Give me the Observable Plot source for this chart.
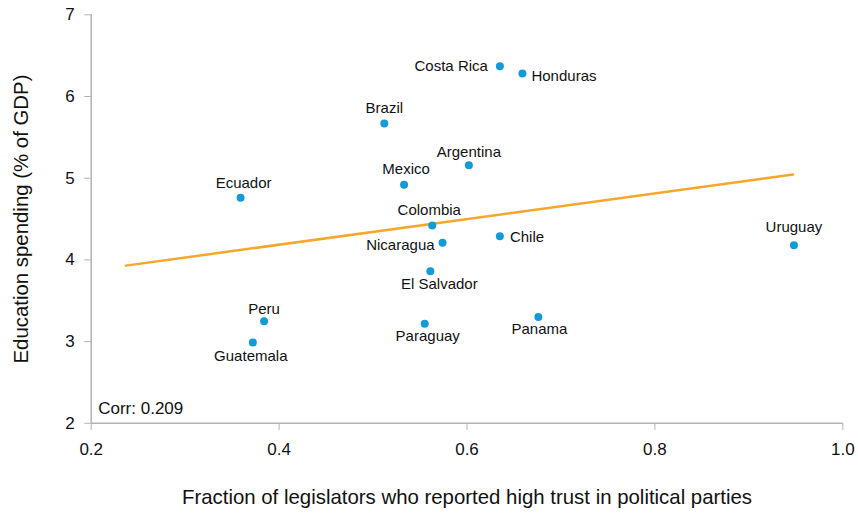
<!DOCTYPE html>
<html>
<head>
<meta charset="utf-8">
<script src="https://cdn.jsdelivr.net/npm/d3@7"></script>
<script src="https://cdn.jsdelivr.net/npm/@observablehq/plot@0.6"></script>
<style>
  html, body { margin: 0; padding: 0; background: #fff; }
  #chart svg { display: block; }
</style>
</head>
<body>
<div id="chart"></div>
<script>
// ---- data ----
const countries = ["Ecuador","Peru","Guatemala","Costa Rica","Honduras","Brazil","Argentina","Mexico","Colombia","Nicaragua","Chile","El Salvador","Paraguay","Panama","Uruguay"];
const trust     = [0.359, 0.384, 0.372, 0.635, 0.659, 0.512, 0.602, 0.533, 0.563, 0.574, 0.635, 0.561, 0.555, 0.676, 0.948];
const spending  = [4.76, 3.25, 2.99, 6.37, 6.28, 5.67, 5.16, 4.92, 4.42, 4.21, 4.29, 3.86, 3.22, 3.30, 4.18];
const trendX = [0.237, 0.947];
const trendY = [3.93, 5.045];
const xTicks = [0.2, 0.4, 0.6, 0.8, 1.0];
const yTicks = [2, 3, 4, 5, 6, 7];
const corrText = "Corr: 0.209";
const xTitle = "Fraction of legislators who reported high trust in political parties";
const yTitle = "Education spending (% of GDP)";

// label placement (style, separate from data)
const labelPlacement = {
  "Ecuador":    {anchor: "middle", dx: 3,   dy: -14.5},
  "Peru":       {anchor: "middle", dx: 0,   dy: -12},
  "Guatemala":  {anchor: "middle", dx: -2,  dy: 13.5},
  "Costa Rica": {anchor: "end",    dx: -12, dy: 0},
  "Honduras":   {anchor: "start",  dx: 9,   dy: 3},
  "Brazil":     {anchor: "middle", dx: 0,   dy: -15.5},
  "Argentina":  {anchor: "middle", dx: 0,   dy: -13},
  "Mexico":     {anchor: "middle", dx: 2,   dy: -16},
  "Colombia":   {anchor: "middle", dx: -3,  dy: -15},
  "Nicaragua":  {anchor: "end",    dx: -8,  dy: 2},
  "Chile":      {anchor: "start",  dx: 10,  dy: 1},
  "El Salvador":{anchor: "middle", dx: 9,   dy: 13},
  "Paraguay":   {anchor: "middle", dx: 3,   dy: 12.5},
  "Panama":     {anchor: "middle", dx: 1,   dy: 12.5},
  "Uruguay":    {anchor: "middle", dx: 0,   dy: -18.5}
};

const points = countries.map((c, i) => ({country: c, x: trust[i], y: spending[i]}));
const trend = trendX.map((x, i) => ({x, y: trendY[i]}));

const FONT = "'Liberation Sans', Arial, Helvetica, sans-serif";
const BLUE = "#129bd8";
const ORANGE = "#f6a62b";
const GRAY = "#b3b3b3";
const INK = "#111";

const labelMarks = points.map(p => {
  const pl = labelPlacement[p.country];
  return Plot.text([p], {
    x: "x", y: "y", text: "country",
    textAnchor: pl.anchor, dx: pl.dx, dy: pl.dy,
    fontSize: 15, fill: INK
  });
});

const chart = Plot.plot({
  width: 858,
  height: 515,
  marginLeft: 90.7,
  marginRight: 15.7,
  marginTop: 14.3,
  marginBottom: 92.2,
  style: {fontFamily: FONT, background: "#fff", color: INK},
  x: {domain: [0.2, 1.0]},
  y: {domain: [2, 7]},
  marks: [
    Plot.axisY({ticks: yTicks, tickSize: 6.5, tickPadding: 10, stroke: GRAY, fontSize: 17, fill: INK,
      tickFormat: d3.format("d"), label: yTitle, labelAnchor: "center", labelArrow: "none", labelOffset: 78}),
    Plot.axisX({ticks: xTicks, tickSize: 7, tickPadding: 13, stroke: GRAY, fontSize: 17, fill: INK,
      tickFormat: d3.format(".1f"), label: xTitle, labelAnchor: "center", labelArrow: "none", labelOffset: 81}),
    Plot.ruleX([0.2], {stroke: GRAY, strokeWidth: 1.5}),
    Plot.ruleY([2], {stroke: GRAY, strokeWidth: 1.5}),
    Plot.line(trend, {x: "x", y: "y", stroke: ORANGE, strokeWidth: 2.5}),
    Plot.dot(points, {x: "x", y: "y", r: 4, fill: BLUE}),
    ...labelMarks,
    Plot.text([corrText], {frameAnchor: "bottom-left", dx: 7, dy: -9, fontSize: 17, textAnchor: "start", fill: INK})
  ]
});

// axis titles font size
chart.querySelectorAll("[aria-label='y-axis label'] text, [aria-label='x-axis label'] text").forEach(t => {
  t.setAttribute("font-size", "20.4");
});
document.getElementById("chart").appendChild(chart);
</script>
</body>
</html>
